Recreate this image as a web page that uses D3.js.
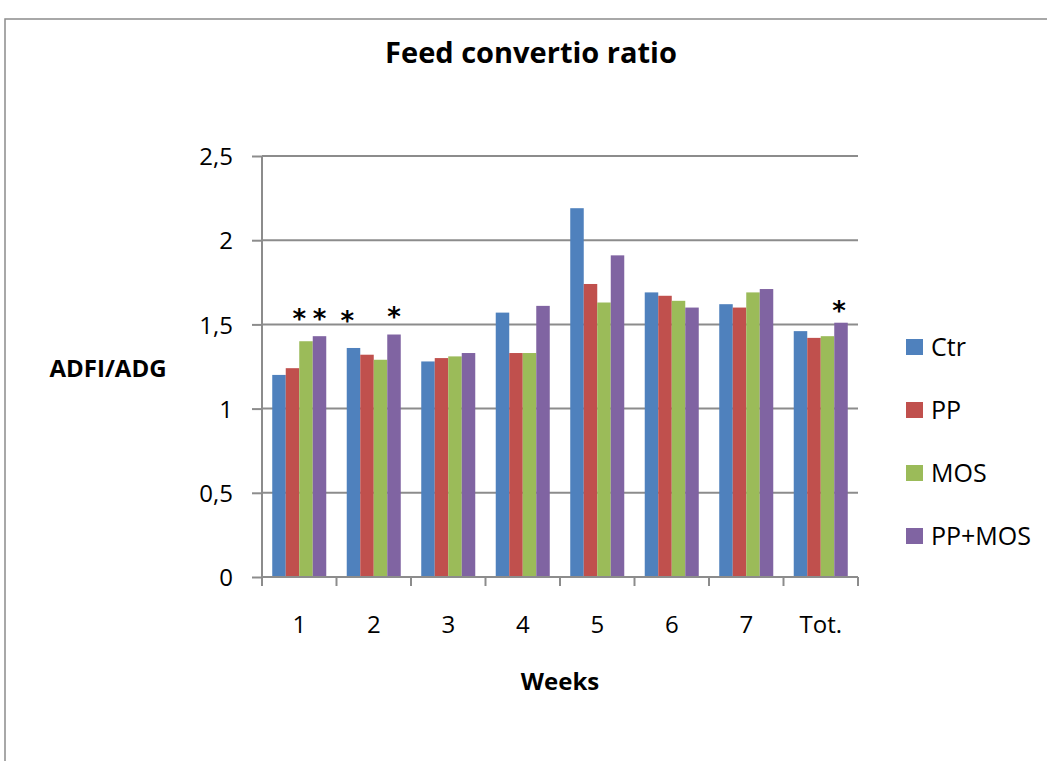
<!DOCTYPE html>
<html><head><meta charset="utf-8">
<script src="https://cdn.jsdelivr.net/npm/d3@7"></script>
<style>body{margin:0;background:#fff}svg{display:block}text{font-family:"Open Sans",Lato,sans-serif;fill:#000}</style>
</head><body>
<script>
const categories = ["1","2","3","4","5","6","7","Tot."];
const seriesNames = ["Ctr","PP","MOS","PP+MOS"];
const ctr   = [1.20,1.36,1.28,1.57,2.19,1.69,1.62,1.46];
const pp    = [1.24,1.32,1.30,1.33,1.74,1.67,1.60,1.42];
const mos   = [1.40,1.29,1.31,1.33,1.63,1.64,1.69,1.43];
const ppmos = [1.43,1.44,1.33,1.61,1.91,1.60,1.71,1.51];
const yTicks = [0,0.5,1,1.5,2,2.5];
const yTickLabels = ["0","0,5","1","1,5","2","2,5"];
// significance asterisks: [category, series, shift (bar widths), level]
const stars = [["1","MOS",-0.5,1.562],["1","PP+MOS",0,1.562],["2","Ctr",-0.45,1.55],["2","PP+MOS",0,1.574],["Tot.","PP+MOS",-0.15,1.609]];
const colors = ["#4F81BD","#C0504D","#9BBB59","#8064A2"];

const values = [ctr,pp,mos,ppmos];
const W=1047,H=761;
const svg=d3.select("body").append("svg").attr("width",W).attr("height",H);
// outer border
svg.append("rect").attr("x",5).attr("y",19).attr("width",1060).attr("height",800)
  .attr("fill","none").attr("stroke","#8c8c8c").attr("stroke-width",1.5);

const x0=d3.scaleBand().domain(categories).range([262,858]).paddingInner(0.275).paddingOuter(0.1375);
const x1=d3.scaleBand().domain(seriesNames).range([0,x0.bandwidth()]);
const y=d3.scaleLinear().domain([0,2.5]).range([577,156]);

// gridlines
svg.append("g").selectAll("line").data(yTicks.slice(1)).join("line")
  .attr("x1",262).attr("x2",858).attr("y1",d=>y(d)).attr("y2",d=>y(d))
  .attr("stroke","#8c8c8c").attr("stroke-width",2);

// bars
const g=svg.append("g");
categories.forEach((c,i)=>{
  seriesNames.forEach((s,j)=>{
    g.append("rect").attr("x",x0(c)+x1(s)).attr("y",y(values[j][i]))
      .attr("width",x1.bandwidth()).attr("height",y(0)-y(values[j][i]))
      .attr("fill",colors[j]);
  });
});

// y axis
const yAxis=d3.axisLeft(y).tickValues(yTicks).tickSize(10).tickFormat((d,i)=>yTickLabels[i]);
const ya=svg.append("g").attr("transform","translate(262,0)").call(yAxis);
ya.select(".domain").attr("stroke","#8c8c8c").attr("stroke-width",2).attr("d","M0,"+y(2.5)+"V"+y(0));
ya.selectAll(".tick line").attr("stroke","#8c8c8c").attr("stroke-width",2);
ya.selectAll(".tick text").attr("x",-29).attr("dy","0.36em").style("font-size","24px").style("font-family","'Open Sans', sans-serif").attr("fill","#000");

// x axis
const xa=svg.append("g").attr("transform","translate(0,577)");
xa.append("line").attr("x1",262).attr("x2",858).attr("stroke","#8c8c8c").attr("stroke-width",2);
const bounds=categories.map(c=>x0(c)-x0.step()*x0.paddingInner()/2).concat([858]);
xa.selectAll("line.t").data(bounds).join("line").attr("class","t")
  .attr("x1",d=>d).attr("x2",d=>d).attr("y1",0).attr("y2",9).attr("stroke","#8c8c8c").attr("stroke-width",2);
xa.selectAll("text").data(categories).join("text")
  .attr("x",d=>x0(d)+x0.bandwidth()/2).attr("y",56).attr("text-anchor","middle")
  .style("font-size","24px").text(d=>d);

// asterisks
svg.append("g").selectAll("text").data(stars).join("text")
  .attr("x",d=>x0(d[0])+x1(d[1])+x1.bandwidth()*(0.5+d[2])).attr("y",d=>y(d[3])+14)
  .attr("text-anchor","middle").style("font-size","26px").style("font-weight","bold")
  .style("font-family","'DejaVu Sans', sans-serif").attr("fill","#222").text("*");

// titles
svg.append("text").attr("x",531).attr("y",63).attr("text-anchor","middle")
  .style("font-size","29px").style("font-weight","bold").text("Feed convertio ratio");
svg.append("text").attr("x",108).attr("y",377).attr("text-anchor","middle")
  .style("font-size","24px").style("font-weight","bold").text("ADFI/ADG");
svg.append("text").attr("x",560).attr("y",690).attr("text-anchor","middle")
  .style("font-size","24px").style("font-weight","bold").text("Weeks");

// legend
const leg=svg.append("g");
seriesNames.forEach((s,j)=>{
  const cy=347+j*63;
  leg.append("rect").attr("x",906).attr("y",cy-8).attr("width",17).attr("height",16).attr("fill",colors[j]);
  leg.append("text").attr("x",931).attr("y",cy+8.5).style("font-size","25px").text(s);
});
</script>
</body></html>
